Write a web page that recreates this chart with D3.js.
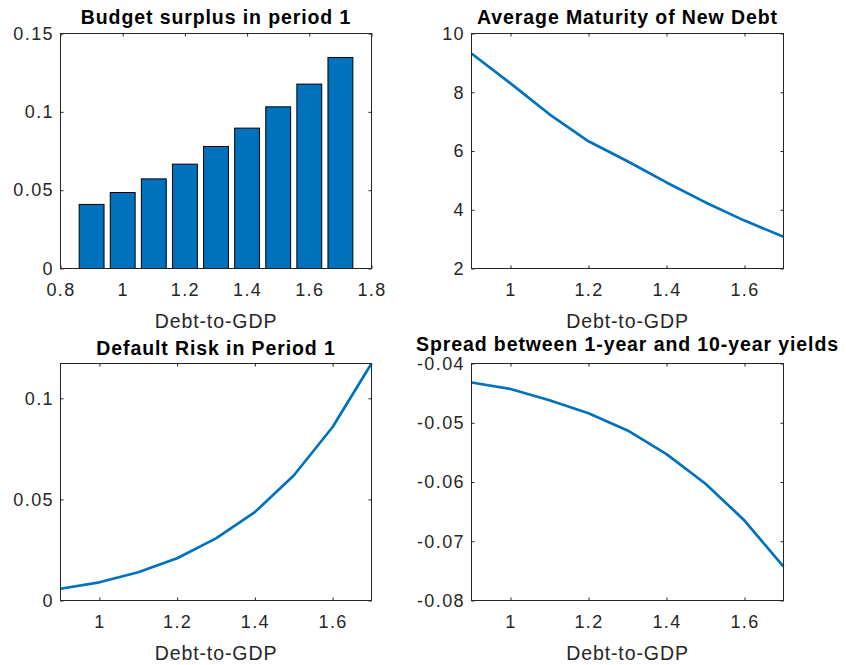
<!DOCTYPE html>
<html>
<head>
<meta charset="utf-8">
<script src="https://cdn.jsdelivr.net/npm/d3@7"></script>
<style>
  body { margin: 0; background: #fff; }
  svg { display: block; }
  text { font-family: "Liberation Sans", Arial, Helvetica, sans-serif; }
</style>
</head>
<body>
<svg id="chart" width="846" height="665"></svg>
<script>
// Debt-to-GDP grid
const debtToGDP = [0.9, 1.0, 1.1, 1.2, 1.3, 1.4, 1.5, 1.6, 1.7];
// Panel series
const budgetSurplus = [0.0409, 0.0485, 0.0572, 0.0666, 0.0779, 0.0896, 0.1032, 0.1177, 0.1347];
const avgMaturity   = [9.32, 8.30, 7.25, 6.33, 5.65, 4.93, 4.25, 3.63, 3.08];
const defaultRisk   = [0.0058, 0.0090, 0.0140, 0.0209, 0.0307, 0.0437, 0.0618, 0.0858, 0.1172];
const yieldSpread   = [-0.0432, -0.0443, -0.0462, -0.0484, -0.0513, -0.0553, -0.0603, -0.0665, -0.0743];

// Titles and tick labels
const titles = [
  "Budget surplus in period 1",
  "Average Maturity of New Debt",
  "Default Risk in Period 1",
  "Spread between 1-year and 10-year yields"
];
const xLabel = "Debt-to-GDP";
const barXTicks = [0.8, 1.0, 1.2, 1.4, 1.6, 1.8];
const lineXTicks = [1.0, 1.2, 1.4, 1.6];
const surplusYTicks = [0, 0.05, 0.1, 0.15];
const maturityYTicks = [2, 4, 6, 8, 10];
const riskYTicks = [0, 0.05, 0.1];
const spreadYTicks = [-0.08, -0.07, -0.06, -0.05, -0.04];

const BLUE = "#0072BD";
const AXIS = "#262626";
const svg = d3.select("#chart");

const fmt = v => d3.format("~g")(+v.toFixed(4)).replace("−", "-");

function panel(box, title, xDomain, xTicks, yDomain, yTicks, titleGap) {
  const x = d3.scaleLinear().domain(xDomain).range([box.x0, box.x1]);
  const y = d3.scaleLinear().domain(yDomain).range([box.y1, box.y0]);
  const g = svg.append("g");

  // inward ticks on all four sides, boxed axes
  const tl = 3;
  g.append("g").attr("transform", `translate(0,${box.y1})`)
    .call(d3.axisBottom(x).tickValues(xTicks).tickSizeInner(-tl).tickSizeOuter(0).tickPadding(15).tickFormat(fmt));
  g.append("g").attr("transform", `translate(0,${box.y0})`)
    .call(d3.axisTop(x).tickValues(xTicks).tickSizeInner(-tl).tickSizeOuter(0).tickFormat(""));
  g.append("g").attr("transform", `translate(${box.x0},0)`)
    .call(d3.axisLeft(y).tickValues(yTicks).tickSizeInner(-tl).tickSizeOuter(0).tickPadding(6.5).tickFormat(fmt));
  g.append("g").attr("transform", `translate(${box.x1},0)`)
    .call(d3.axisRight(y).tickValues(yTicks).tickSizeInner(-tl).tickSizeOuter(0).tickFormat(""));

  g.selectAll(".domain").remove();
  g.selectAll(".tick line").attr("stroke", AXIS).attr("stroke-width", 1);
  g.selectAll(".tick text")
    .attr("fill", AXIS)
    .style("font-size", "18px")
    .style("letter-spacing", "1.4px");

  const body = g.append("g");

  g.append("rect")
    .attr("x", box.x0).attr("y", box.y0)
    .attr("width", box.x1 - box.x0).attr("height", box.y1 - box.y0)
    .attr("fill", "none").attr("stroke", AXIS).attr("stroke-width", 1);

  g.append("text")
    .attr("x", (box.x0 + box.x1) / 2).attr("y", box.y0 - titleGap)
    .attr("text-anchor", "middle")
    .style("font-size", "19.5px").style("font-weight", "bold")
    .style("letter-spacing", "0.9px")
    .attr("fill", "#000")
    .text(title);

  g.append("text")
    .attr("x", (box.x0 + box.x1) / 2).attr("y", box.y1 + 59)
    .attr("text-anchor", "middle")
    .style("font-size", "19.5px")
    .style("letter-spacing", "0.9px")
    .attr("fill", AXIS)
    .text(xLabel);

  return { x, y, body };
}

function drawLine(p, values) {
  const line = d3.line().x((d, i) => p.x(debtToGDP[i])).y(d => p.y(d));
  p.body.append("path")
    .datum(values)
    .attr("d", line)
    .attr("fill", "none")
    .attr("stroke", BLUE)
    .attr("stroke-width", 2.7)
    .attr("stroke-linejoin", "round");
}

const boxes = [
  { x0: 60.5,  x1: 371.5, y0: 33.5,  y1: 268.5 },
  { x0: 471.5, x1: 783.5, y0: 33.5,  y1: 268.5 },
  { x0: 60.5,  x1: 371.5, y0: 363.5, y1: 600.5 },
  { x0: 471.5, x1: 783.5, y0: 363.5, y1: 600.5 }
];

// Budget surplus bars
const p1 = panel(boxes[0], titles[0], [0.8, 1.8], barXTicks, [0, 0.15], surplusYTicks, 10);
const barW = (p1.x(1.0) - p1.x(0.9)) * 0.8;
p1.body.selectAll("rect")
  .data(budgetSurplus)
  .join("rect")
  .attr("x", (d, i) => p1.x(debtToGDP[i]) - barW / 2)
  .attr("y", d => p1.y(d))
  .attr("width", barW)
  .attr("height", d => p1.y(0) - p1.y(d))
  .attr("fill", BLUE)
  .attr("stroke", "#000")
  .attr("stroke-width", 1);

// Average maturity
const p2 = panel(boxes[1], titles[1], d3.extent(debtToGDP), lineXTicks, [2, 10], maturityYTicks, 10);
drawLine(p2, avgMaturity);

// Default risk
const p3 = panel(boxes[2], titles[2], d3.extent(debtToGDP), lineXTicks, [0, d3.max(defaultRisk)], riskYTicks, 9);
drawLine(p3, defaultRisk);

// Yield spread
const p4 = panel(boxes[3], titles[3], d3.extent(debtToGDP), lineXTicks, [-0.08, -0.04], spreadYTicks, 12.5);
drawLine(p4, yieldSpread);
</script>
</body>
</html>
